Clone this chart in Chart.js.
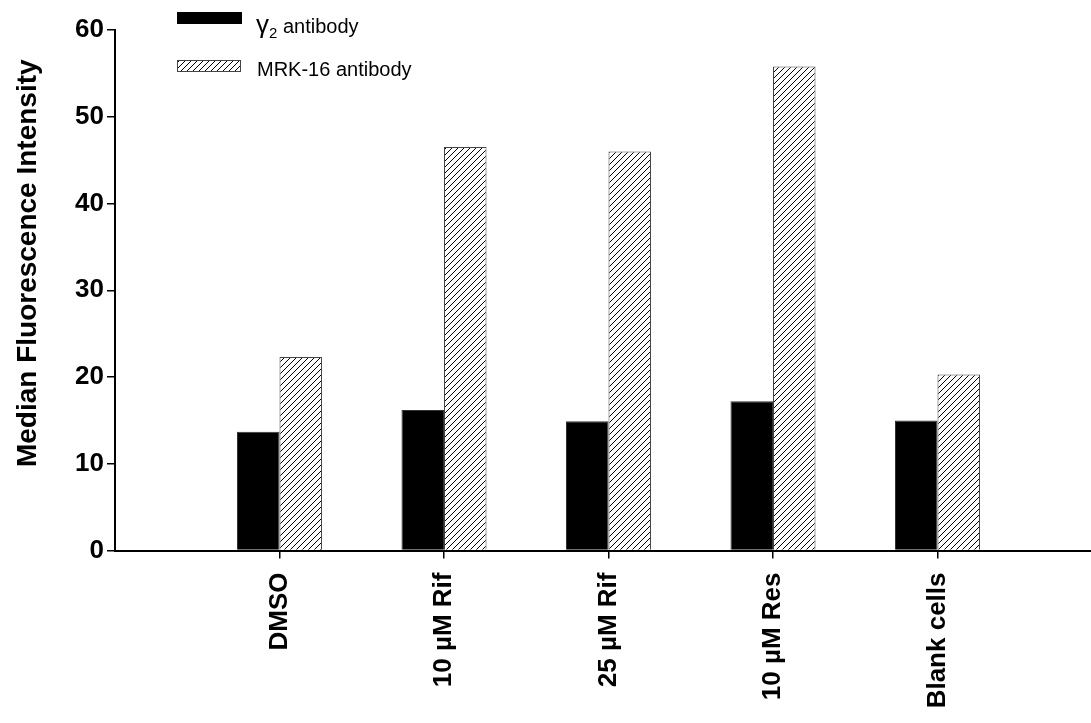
<!DOCTYPE html>
<html>
<head>
<meta charset="utf-8">
<script src="https://cdn.jsdelivr.net/npm/chart.js@4/dist/chart.umd.min.js"></script>
<style>
  html, body { margin: 0; padding: 0; background: #fff; overflow: hidden; }
  #wrap { width: 1102px; height: 723px; position: relative; }
</style>
</head>
<body>
<div id="wrap"><canvas id="c"></canvas></div>
<script>
const categories = ['DMSO', '10 \u00B5M Rif', '25 \u00B5M Rif', '10 \u00B5M Res', 'Blank cells'];
const gamma2Values = [13.7, 16.2, 14.9, 17.2, 15.0];
const mrk16Values = [22.3, 46.5, 46.0, 55.8, 20.3];
const yTicks = [0, 10, 20, 30, 40, 50, 60];
const seriesLabels = ['\u03B3', 'MRK-16 antibody'];

const FONT = '"Liberation Sans", Arial, Helvetica, sans-serif';
Chart.defaults.font.family = FONT;
Chart.defaults.color = '#000';

const ctx = document.getElementById('c').getContext('2d');

function makeHatch() {
  const s = 6;
  const c = document.createElement('canvas');
  c.width = s; c.height = s;
  const g = c.getContext('2d');
  g.fillStyle = '#fff';
  g.fillRect(0, 0, s, s);
  g.strokeStyle = '#000';
  g.lineWidth = 1;
  g.beginPath();
  g.moveTo(0, s); g.lineTo(s, 0);
  g.moveTo(-1, 1); g.lineTo(1, -1);
  g.moveTo(s - 1, s + 1); g.lineTo(s + 1, s - 1);
  g.stroke();
  return ctx.createPattern(c, 'repeat');
}
const hatch = makeHatch();

const legendPlugin = {
  id: 'customLegend',
  afterDraw(chart) {
    const g = chart.ctx;
    g.save();
    g.fillStyle = '#000';
    g.fillRect(177, 12, 65, 12);
    g.textBaseline = 'alphabetic';
    g.textAlign = 'left';
    g.font = '26px ' + FONT;
    g.fillText(seriesLabels[0], 256, 33);
    let x = 256 + g.measureText(seriesLabels[0]).width;
    g.font = '15px ' + FONT;
    g.fillText('2', x, 38);
    x += g.measureText('2').width;
    g.font = '20px ' + FONT;
    g.fillText(' antibody', x, 33);
    g.fillStyle = hatch;
    g.fillRect(177, 60, 63, 11);
    g.strokeStyle = '#444';
    g.lineWidth = 1;
    g.strokeRect(177.5, 60.5, 63, 11);
    g.fillStyle = '#000';
    g.font = '20px ' + FONT;
    g.fillText(seriesLabels[1], 257, 76);
    g.restore();
  }
};

const yTitlePlugin = {
  id: 'yTitle',
  afterDraw(chart) {
    const g = chart.ctx;
    const ca = chart.chartArea;
    g.save();
    g.translate(28, (ca.top + ca.bottom) / 2 - 27);
    g.rotate(-Math.PI / 2);
    g.font = 'bold 28px ' + FONT;
    g.fillStyle = '#000';
    g.textAlign = 'center';
    g.textBaseline = 'middle';
    g.fillText('Median Fluorescence Intensity', 0, 0);
    g.restore();
  }
};

new Chart(ctx, {
  type: 'bar',
  data: {
    datasets: [
      {
        label: 'gamma2 antibody',
        data: gamma2Values.map((v, i) => ({ x: i + 1, y: v })),
        backgroundColor: '#000',
        borderColor: '#333',
        borderWidth: 1,
        categoryPercentage: 0.517,
        barPercentage: 1.0
      },
      {
        label: 'MRK-16 antibody',
        data: mrk16Values.map((v, i) => ({ x: i + 1, y: v })),
        backgroundColor: hatch,
        borderColor: '#444',
        borderWidth: 1,
        categoryPercentage: 0.517,
        barPercentage: 1.0
      }
    ]
  },
  options: {
    responsive: true,
    maintainAspectRatio: false,
    animation: false,
    layout: { padding: { top: 30, left: 0, right: 0, bottom: 0 } },
    plugins: {
      legend: { display: false },
      tooltip: { enabled: false }
    },
    scales: {
      x: {
        type: 'linear',
        min: 0,
        max: 6,
        offset: false,
        afterBuildTicks: (scale) => { scale.ticks = categories.map((c, i) => ({ value: i + 1 })); },
        afterFit: (scale) => { scale.height = 172.5; },
        grid: { display: true, offset: false, drawOnChartArea: false, drawTicks: true, tickLength: 8, color: '#000', lineWidth: 1.5 },
        border: { display: true, color: '#000', width: 2 },
        ticks: {
          autoSkip: false,
          minRotation: 90,
          maxRotation: 90,
          padding: 14,
          font: { size: 26, weight: 'bold' },
          color: '#000',
          callback: (v) => categories[v - 1] || ''
        }
      },
      y: {
        min: 0,
        max: 60,
        afterBuildTicks: (scale) => { scale.ticks = yTicks.map(v => ({ value: v })); },
        afterFit: (scale) => { scale.width = 115; },
        grid: { display: true, drawOnChartArea: false, drawTicks: true, tickLength: 8, color: '#000', lineWidth: 1.5 },
        border: { display: true, color: '#000', width: 2 },
        ticks: {
          padding: 3,
          font: { size: 26, weight: 'bold' },
          color: '#000'
        }
      }
    }
  },
  plugins: [legendPlugin, yTitlePlugin]
});
</script>
</body>
</html>
